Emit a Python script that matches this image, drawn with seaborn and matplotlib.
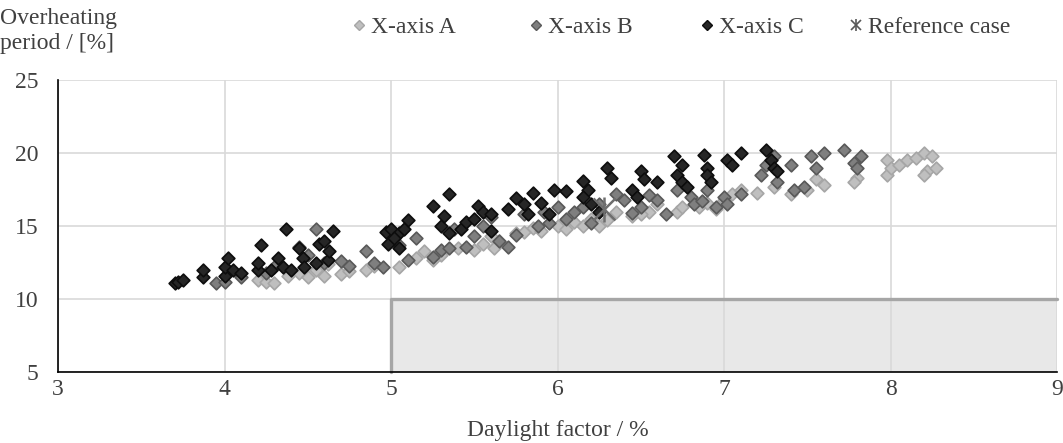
import numpy as np
import pandas as pd
import matplotlib
matplotlib.use("Agg")
import matplotlib.pyplot as plt
from matplotlib.patches import Rectangle
from matplotlib.lines import Line2D
import seaborn as sns

# ---- data ----
a_x = [4.20, 4.25, 4.30, 4.38, 4.45, 4.50, 4.55, 4.60, 4.70, 4.75, 4.85, 4.90, 5.05, 5.15,
       5.20, 5.30, 5.40, 5.50, 5.55, 5.60, 5.65, 5.75, 5.85, 5.90, 6.00, 6.05, 6.10, 6.15,
       6.20, 6.25, 6.35, 6.45, 6.55, 6.60, 6.72, 6.75, 6.85, 6.90, 6.95, 7.00, 7.05, 7.10,
       7.20, 7.30, 7.40, 7.50, 7.55, 7.60, 7.80, 7.78, 7.98, 7.98, 8.00, 8.05, 8.10, 8.15,
       8.20, 8.25, 8.22, 8.27, 8.20, 5.62, 5.80, 6.30, 6.50, 5.25, 4.62]
a_y = [11.3, 11.2, 11.1, 11.6, 11.8, 11.5, 12.0, 11.6, 11.7, 11.9, 12.0, 12.3, 12.2, 12.8,
       13.3, 13.0, 13.5, 13.4, 13.8, 14.3, 14.0, 14.5, 14.9, 14.7, 15.0, 14.8, 15.3, 15.0,
       15.5, 15.0, 16.0, 15.7, 16.0, 16.5, 16.0, 16.3, 16.3, 16.6, 16.2, 16.8, 17.2, 17.5,
       17.3, 17.7, 17.2, 17.5, 18.2, 17.8, 18.3, 18.0, 18.5, 19.5, 19.0, 19.2, 19.5, 19.7,
       20.0, 19.8, 18.8, 19.0, 18.5, 13.5, 14.6, 15.4, 15.8, 12.7, 12.4]

b_x = [3.95, 4.00, 4.10, 4.25, 4.30, 4.45, 4.50, 4.55, 4.60, 4.70, 4.75, 4.85, 4.90, 4.95,
       5.05, 5.10, 5.15, 5.25, 5.30, 5.35, 5.38, 5.45, 5.50, 5.55, 5.60, 5.65, 5.70, 5.75,
       5.80, 5.88, 5.92, 6.00, 6.05, 6.15, 6.20, 6.25, 6.35, 6.40, 6.45, 6.50, 6.55, 6.60,
       6.65, 6.72, 6.80, 6.82, 6.87, 6.90, 6.95, 7.00, 7.02, 7.10, 7.22, 7.25, 7.30, 7.32,
       7.42, 7.48, 7.52, 7.55, 7.60, 7.72, 7.78, 7.80, 7.82, 7.40, 6.10, 5.95]
b_y = [11.1, 11.2, 11.5, 11.8, 12.2, 13.6, 13.0, 14.8, 12.5, 12.6, 12.3, 13.3, 12.5, 12.2,
       13.7, 12.7, 14.2, 12.9, 13.4, 13.5, 14.8, 13.6, 14.3, 15.0, 15.6, 14.0, 13.6, 14.4,
       15.8, 15.0, 16.0, 16.3, 15.5, 16.3, 15.2, 16.5, 17.2, 16.8, 15.9, 16.3, 17.1, 16.8,
       15.8, 17.5, 17.0, 16.5, 16.7, 17.5, 16.3, 17.0, 16.5, 17.2, 18.5, 19.2, 19.8, 18.0,
       17.5, 17.7, 19.8, 19.0, 20.0, 20.2, 19.3, 19.0, 19.8, 19.2, 16.0, 15.2]

c_x = [3.70, 3.72, 3.75, 3.87, 3.87, 4.00, 4.00, 4.02, 4.05, 4.10, 4.20, 4.22, 4.20, 4.28,
       4.32, 4.35, 4.37, 4.40, 4.45, 4.47, 4.48, 4.55, 4.57, 4.60, 4.62, 4.65, 4.63, 4.97,
       4.98, 5.00, 5.05, 5.02, 5.10, 5.08, 5.05, 5.25, 5.30, 5.35, 5.32, 5.42, 5.45, 5.52,
       5.55, 5.50, 5.60, 5.35, 5.60, 5.70, 5.75, 5.80, 5.82, 5.85, 5.90, 5.98, 6.05, 5.95,
       6.15, 6.18, 6.15, 6.20, 6.25, 6.30, 6.32, 6.45, 6.50, 6.52, 6.48, 6.60, 6.70, 6.75,
       6.72, 6.75, 6.78, 6.88, 6.90, 6.90, 6.92, 7.02, 7.05, 7.10, 7.25, 7.28, 7.30, 7.32]
c_y = [11.1, 11.2, 11.3, 11.5, 12.0, 11.6, 12.2, 12.8, 12.0, 11.8, 12.0, 13.7, 12.5, 12.0,
       12.8, 12.2, 14.8, 12.0, 13.5, 12.8, 12.2, 12.5, 13.8, 14.0, 12.7, 14.7, 13.3, 14.6,
       13.8, 14.8, 14.5, 14.2, 15.4, 14.8, 13.5, 16.4, 15.0, 14.5, 15.7, 14.8, 15.3, 16.4,
       16.0, 15.5, 15.8, 17.2, 14.7, 16.2, 16.9, 16.5, 15.8, 17.3, 16.6, 17.5, 17.4, 15.8,
       18.1, 17.5, 17.0, 16.5, 16.0, 19.0, 18.3, 17.5, 18.8, 18.2, 17.0, 18.0, 19.8, 19.2,
       18.5, 18.0, 17.7, 19.9, 19.0, 18.5, 18.0, 19.5, 19.2, 20.0, 20.2, 19.5, 19.0, 18.8]

ref_x = [6.28]
ref_y = [16.2]

x_ticks = [3, 4, 5, 6, 7, 8, 9]
y_ticks = [5, 10, 15, 20, 25]
series_names = ["X-axis A", "X-axis B", "X-axis C", "Reference case"]

# ---- styling ----
sns.set_theme(style="white")
plt.rcParams['font.family'] = ['Liberation Serif', 'DejaVu Serif']
FS = 17
TXT = "#404040"
REF_C = "#6E6E6E"

fig = plt.figure(figsize=(10.63, 4.43), dpi=100)
ax = fig.add_axes([0.0546, 0.160, 0.9398, 0.659])

styles = [
    ("#BFBFBF", "#A6A6A6"),
    ("#7F7F7F", "#595959"),
    ("#262626", "#0D0D0D"),
]
for (xs, ys), (fc, ec) in zip([(a_x, a_y), (b_x, b_y), (c_x, c_y)], styles):
    df = pd.DataFrame({"x": xs, "y": ys})
    sns.scatterplot(data=df, x="x", y="y", ax=ax, marker="D", s=42,
                    color=fc, edgecolor=ec, linewidth=1.2, zorder=3, legend=False)

# reference case: X with vertical bar
ax.plot(ref_x, ref_y, ls="none", marker="x", ms=16, color=REF_C, mew=1.8, zorder=6)
ax.plot(ref_x, ref_y, ls="none", marker="|", ms=18, color=REF_C, mew=1.8, zorder=6)

ax.add_patch(Rectangle((5, 5), 4, 5, facecolor="#D9D9D9", alpha=0.6,
                       edgecolor="none", zorder=1))
ax.plot([5, 5, 9], [5, 10, 10], color="#A6A6A6", lw=2.4, zorder=2, clip_on=False)

ax.set_xlim(3, 9)
ax.set_ylim(5, 25)
ax.set_xticks(x_ticks)
ax.set_yticks(y_ticks)
ax.grid(True, color="#D9D9D9", lw=1.2, zorder=0)
ax.set_axisbelow(True)
for s in ["top", "right"]:
    ax.spines[s].set_visible(False)
for s in ["left", "bottom"]:
    ax.spines[s].set_color("black")
    ax.spines[s].set_linewidth(1.2)
ax.tick_params(axis="y", labelsize=FS, colors=TXT, length=0, pad=14)
ax.tick_params(axis="x", labelsize=FS, colors=TXT, length=0, pad=5)

ax.set_xlabel("Daylight factor / %", fontsize=FS, color=TXT, labelpad=14)
ax.set_ylabel("")
fig.text(0.0, 0.982, "Overheating\nperiod / [%]", fontsize=FS, color=TXT,
         va="top", ha="left", linespacing=1.25)

handles = [
    Line2D([], [], ls="none", marker="D", ms=5, mfc=styles[0][0], mec=styles[0][1]),
    Line2D([], [], ls="none", marker="D", ms=5, mfc=styles[1][0], mec=styles[1][1]),
    Line2D([], [], ls="none", marker="D", ms=5, mfc=styles[2][0], mec=styles[2][1]),
    (Line2D([], [], ls="none", marker="x", ms=7, color="#595959", mew=1.2),
     Line2D([], [], ls="none", marker="|", ms=8, color="#595959", mew=1.2)),
]
leg_x = [0.3264, 0.493, 0.654, 0.794]
for h, name, lx in zip(handles, series_names, leg_x):
    leg = fig.legend([h], [name], loc="center left", bbox_to_anchor=(lx, 0.939),
                     frameon=False, fontsize=FS, handletextpad=0.0,
                     handlelength=1.0, borderpad=0, borderaxespad=0)
    for t in leg.get_texts():
        t.set_color(TXT)

fig.savefig("out.png", dpi=100)
